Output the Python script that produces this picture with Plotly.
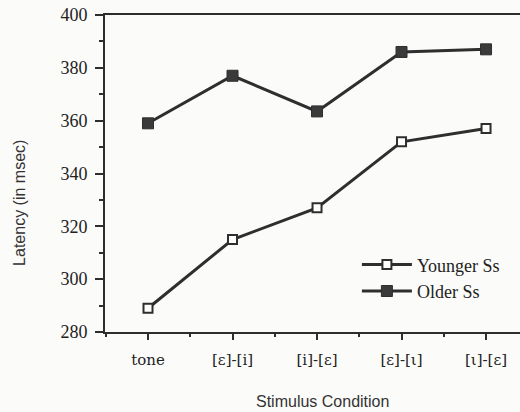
import plotly.graph_objects as go

categories = ["tone", "[ε]-[i]", "[i]-[ε]", "[ε]-[ι]", "[ι]-[ε]"]
younger = [289, 315, 327, 352, 357]
older = [359, 377, 363.5, 386, 387]
y_ticks = [280, 300, 320, 340, 360, 380, 400]

xpos = list(range(len(categories)))
ink = "#2e2e2e"

fig = go.Figure()
fig.add_trace(go.Scatter(
    x=xpos, y=younger, name="Younger Ss", mode="lines+markers",
    line=dict(color=ink, width=3),
    marker=dict(symbol="square", size=9, color="white", line=dict(color=ink, width=2)),
))
fig.add_trace(go.Scatter(
    x=xpos, y=older, name="Older Ss", mode="lines+markers",
    line=dict(color=ink, width=3),
    marker=dict(symbol="square", size=11, color="#3a3a3a", line=dict(color=ink, width=1)),
))

fig.update_layout(
    width=520, height=412,
    margin=dict(l=105, r=0, t=15, b=80),
    paper_bgcolor="#fbfbf9", plot_bgcolor="#fbfbf9",
    showlegend=True,
    legend=dict(
        x=0.607, y=0.27, xanchor="left", yanchor="top",
        bgcolor="rgba(0,0,0,0)", itemwidth=50,
        font=dict(family="Liberation Serif", size=18, color="#222"),
        tracegroupgap=0,
    ),
    xaxis=dict(
        range=[-0.509, 4.402],
        tickmode="array", tickvals=xpos, ticktext=categories,
        ticks="outside", ticklen=6, tickwidth=1.5, tickcolor=ink,
        minor=dict(tickmode="linear", tick0=-0.5, dtick=1, ticks="outside", ticklen=3, tickwidth=1.5, tickcolor=ink),
        showline=True, linecolor=ink, linewidth=2, mirror=True,
        showgrid=False, zeroline=False,
        tickfont=dict(family="DejaVu Serif", size=15, color="#222"),
        ticklabelstandoff=7,
    ),
    yaxis=dict(
        range=[280, 400],
        tickmode="array", tickvals=y_ticks,
        ticks="outside", ticklen=8, tickwidth=1.5, tickcolor=ink,
        minor=dict(tickmode="linear", tick0=290, dtick=20, ticks="outside", ticklen=4, tickwidth=1.5, tickcolor=ink),
        showline=True, linecolor=ink, linewidth=2,
        showgrid=False, zeroline=False,
        tickfont=dict(family="Liberation Serif", size=18, color="#222"),
        ticklabelstandoff=4,
    ),
    annotations=[
        dict(text="Latency (in msec)", xref="paper", yref="paper", x=-0.205, y=0.407,
             textangle=-90, showarrow=False, xanchor="center", yanchor="middle",
             font=dict(family="Liberation Sans", size=16, color="#333")),
        dict(text="Stimulus Condition", xref="paper", yref="paper", x=0.523, y=-0.218,
             showarrow=False, xanchor="center", yanchor="middle",
             font=dict(family="Liberation Sans", size=16, color="#333")),
    ],
)

fig.write_html("out.html")
